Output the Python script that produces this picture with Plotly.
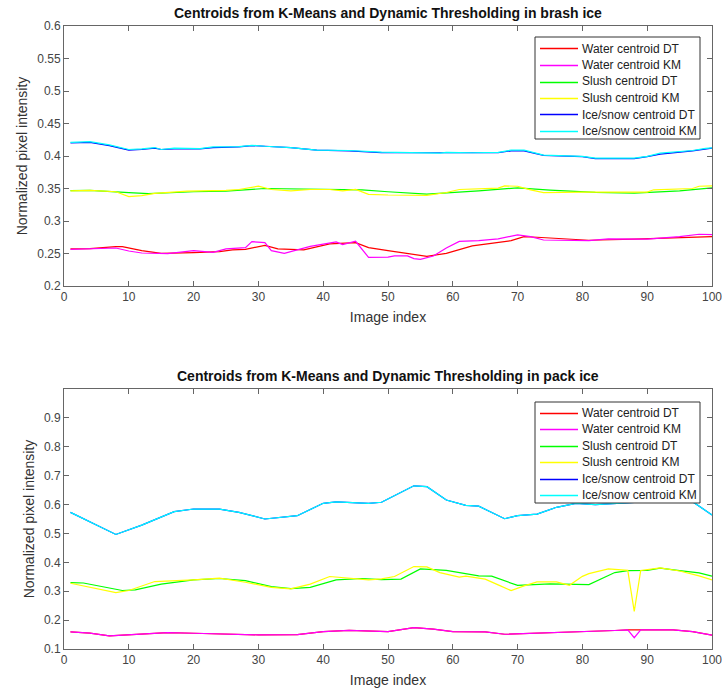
import plotly.graph_objects as go

# ---------------- Data: brash ice (top) ----------------
brash_water_dt_x = [1, 4, 8, 9, 12, 15, 20, 24, 26, 28, 31, 33, 37, 41, 45, 47, 50, 56, 59, 63, 69, 71, 73, 81, 88, 94, 100]
brash_water_dt_y = [0.257, 0.2575, 0.2605, 0.2605, 0.2544, 0.2503, 0.2513, 0.2529, 0.2555, 0.2565, 0.2626, 0.257,
                    0.2555, 0.2647, 0.2668, 0.259, 0.2544, 0.2456, 0.2503, 0.2616, 0.2698, 0.276, 0.275, 0.2704,
                    0.272, 0.274, 0.276]
brash_water_km_x = [1, 4, 8, 10, 12, 16, 20, 23, 25, 28, 29, 31, 32, 34, 38, 42, 43, 45, 47, 50, 51, 53, 54, 55, 57,
                    59, 61, 64, 67, 70, 72, 74, 81, 84, 90, 95, 98, 100]
brash_water_km_y = [0.2565, 0.2575, 0.2585, 0.2539, 0.2508, 0.2498, 0.2544, 0.2518, 0.257, 0.259, 0.2682, 0.2668,
                    0.2544, 0.2503, 0.261, 0.2678, 0.2637, 0.2688, 0.244, 0.2445, 0.2462, 0.2462, 0.2421, 0.241,
                    0.2462, 0.2585, 0.2687, 0.2698, 0.2725, 0.2786, 0.276, 0.2708, 0.2698, 0.2725, 0.272, 0.276,
                    0.2796, 0.279]
brash_slush_dt_x = [1, 4, 10, 13, 20, 25, 31, 36, 41, 46, 50, 56, 64, 70, 75, 82, 88, 95, 100]
brash_slush_dt_y = [0.3468, 0.347, 0.3438, 0.342, 0.345, 0.346, 0.350, 0.349, 0.3485, 0.348, 0.345, 0.3412, 0.3462,
                    0.351, 0.3475, 0.344, 0.343, 0.3462, 0.351]
brash_slush_km_x = [1, 4, 8, 10, 12, 14, 19, 25, 27, 30, 32, 35, 38, 41, 43, 45, 47, 50, 56, 59, 61, 67, 68, 70, 72,
                    74, 80, 85, 90, 91, 97, 98, 100]
brash_slush_km_y = [0.3465, 0.347, 0.345, 0.3375, 0.339, 0.3425, 0.346, 0.347, 0.3485, 0.3535, 0.3485, 0.3465,
                    0.3485, 0.3485, 0.3465, 0.3485, 0.341, 0.340, 0.3395, 0.3438, 0.3485, 0.3505, 0.354, 0.3535,
                    0.348, 0.3438, 0.3445, 0.344, 0.3445, 0.348, 0.350, 0.3535, 0.354]
brash_ice_dt_x = [1, 4, 7, 10, 12, 14, 15, 17, 21, 23, 27, 29, 31, 35, 39, 44, 49, 53, 58, 59, 63, 67, 69, 71, 74,
                  80, 82, 88, 90, 92, 97, 99, 100]
brash_ice_dt_y = [0.420, 0.421, 0.416, 0.409, 0.410, 0.412, 0.410, 0.411, 0.411, 0.413, 0.414, 0.416, 0.415, 0.413,
                  0.409, 0.408, 0.405, 0.405, 0.404, 0.405, 0.405, 0.405, 0.408, 0.408, 0.401, 0.399, 0.396, 0.396,
                  0.399, 0.403, 0.408, 0.411, 0.412]
brash_ice_km_x = [1, 4, 7, 10, 12, 14, 15, 17, 21, 23, 27, 29, 31, 35, 39, 44, 49, 53, 58, 59, 63, 67, 69, 71, 74,
                  80, 82, 88, 90, 92, 97, 99, 100]
brash_ice_km_y = [0.421, 0.422, 0.417, 0.410, 0.411, 0.413, 0.410, 0.412, 0.4115, 0.414, 0.4145, 0.4165, 0.415,
                  0.413, 0.409, 0.4085, 0.406, 0.4055, 0.4043, 0.4056, 0.405, 0.4056, 0.409, 0.409, 0.4013, 0.3995,
                  0.3966, 0.3966, 0.3995, 0.4043, 0.4085, 0.4116, 0.4126]

# ---------------- Data: pack ice (bottom) ----------------
pack_water_dt_x = [1, 4, 7, 10, 16, 20, 30, 36, 40, 44, 50, 54, 57, 60, 65, 68, 75, 80, 85, 87, 89, 94, 97, 100]
pack_water_dt_y = [0.159, 0.155, 0.1454, 0.1488, 0.1567, 0.1545, 0.149, 0.150, 0.160, 0.1646, 0.160, 0.1737, 0.169,
                   0.160, 0.159, 0.151, 0.156, 0.158, 0.164, 0.166, 0.166, 0.166, 0.160, 0.148]
pack_water_km_x = [1, 4, 7, 10, 16, 20, 30, 36, 40, 44, 50, 54, 57, 60, 65, 68, 75, 80, 85, 87, 88, 89, 94, 97, 100]
pack_water_km_y = [0.159, 0.155, 0.1454, 0.1488, 0.1567, 0.1545, 0.149, 0.150, 0.160, 0.1646, 0.160, 0.1737, 0.169,
                   0.160, 0.159, 0.151, 0.156, 0.158, 0.164, 0.166, 0.139, 0.166, 0.166, 0.160, 0.148]
pack_slush_dt_x = [1, 3, 9, 11, 15, 20, 24, 28, 32, 35, 38, 42, 46, 49, 52, 55, 59, 64, 66, 70, 75, 81, 85, 87, 90,
                   92, 95, 98, 100]
pack_slush_dt_y = [0.330, 0.3285, 0.3025, 0.3045, 0.3245, 0.3395, 0.344, 0.3365, 0.316, 0.309, 0.3135, 0.3395, 0.344,
                   0.340, 0.342, 0.3774, 0.372, 0.353, 0.352, 0.320, 0.3255, 0.323, 0.3646, 0.371, 0.372, 0.3797,
                   0.371, 0.3635, 0.352]
pack_slush_km_x = [1, 8, 10, 14, 20, 24, 28, 32, 35, 38, 41, 44, 47, 49, 51, 54, 56, 58, 61, 62, 65, 67, 69, 71, 73,
                   76, 78, 80, 81, 84, 87, 88, 89, 92, 95, 98, 100]
pack_slush_km_y = [0.3275, 0.2955, 0.3025, 0.3335, 0.3395, 0.345, 0.331, 0.3135, 0.308, 0.3245, 0.351, 0.345,
                   0.3395, 0.343, 0.351, 0.3853, 0.384, 0.3646, 0.349, 0.352, 0.342, 0.322, 0.302, 0.3185, 0.3325,
                   0.3325, 0.3205, 0.3515, 0.361, 0.3774, 0.372, 0.23, 0.372, 0.381, 0.370, 0.353, 0.3395]
pack_ice_dt_x = [1, 8, 12, 17, 20, 24, 27, 31, 36, 40, 42, 47, 49, 50, 54, 56, 59, 62, 64, 68, 70, 73, 76, 79, 82,
                 86, 90, 94, 97, 100]
pack_ice_dt_y = [0.573, 0.4965, 0.529, 0.5753, 0.5846, 0.584, 0.573, 0.550, 0.5615, 0.6043, 0.609, 0.6043, 0.608,
                 0.620, 0.665, 0.662, 0.6157, 0.597, 0.5943, 0.551, 0.5615, 0.567, 0.5905, 0.6043, 0.600, 0.605,
                 0.610, 0.615, 0.610, 0.564]
pack_ice_km_x = [1, 8, 12, 17, 20, 24, 27, 31, 36, 40, 42, 47, 49, 50, 54, 56, 59, 62, 64, 68, 70, 73, 76, 79, 82,
                 86, 90, 94, 97, 100]
pack_ice_km_y = [0.573, 0.4965, 0.529, 0.5753, 0.5846, 0.584, 0.573, 0.550, 0.5615, 0.6043, 0.609, 0.6043, 0.608,
                 0.620, 0.665, 0.662, 0.6157, 0.597, 0.5943, 0.551, 0.5615, 0.567, 0.5905, 0.6043, 0.600, 0.605,
                 0.610, 0.615, 0.610, 0.564]

names = ["Water centroid DT", "Water centroid KM", "Slush centroid DT",
         "Slush centroid KM", "Ice/snow centroid DT", "Ice/snow centroid KM"]
colors = ["#ff0000", "#ff00ff", "#00ff00", "#ffff00", "#0000ff", "#00ffff"]

top_title = "Centroids from K-Means and Dynamic Thresholding in brash ice"
bottom_title = "Centroids from K-Means and Dynamic Thresholding in pack ice"
x_label = "Image index"
y_label = "Normalized pixel intensity"
x_ticks = [0, 10, 20, 30, 40, 50, 60, 70, 80, 90, 100]
top_y_ticks = [0.2, 0.25, 0.3, 0.35, 0.4, 0.45, 0.5, 0.55, 0.6]
bottom_y_ticks = [0.1, 0.2, 0.3, 0.4, 0.5, 0.6, 0.7, 0.8, 0.9]

top_series = [(brash_water_dt_x, brash_water_dt_y), (brash_water_km_x, brash_water_km_y),
              (brash_slush_dt_x, brash_slush_dt_y), (brash_slush_km_x, brash_slush_km_y),
              (brash_ice_dt_x, brash_ice_dt_y), (brash_ice_km_x, brash_ice_km_y)]
bottom_series = [(pack_water_dt_x, pack_water_dt_y), (pack_water_km_x, pack_water_km_y),
                 (pack_slush_dt_x, pack_slush_dt_y), (pack_slush_km_x, pack_slush_km_y),
                 (pack_ice_dt_x, pack_ice_dt_y), (pack_ice_km_x, pack_ice_km_y)]

FONT = "Liberation Sans, Arial, sans-serif"
AX = "#666666"
LBL = "#444444"

# figure geometry (pixels)
W, H = 722, 696
ML, MR, MT, MB = 64, 10, 26, 47
PW, PH = W - ML - MR, H - MT - MB


def px_x(px):
    return (px - ML) / PW


def px_y(py):
    return (H - MB - py) / PH


fig = go.Figure()
for (xs, ys), n, c in zip(top_series, names, colors):
    fig.add_trace(go.Scatter(x=xs, y=ys, name=n, mode="lines", line=dict(color=c, width=1.2),
                             xaxis="x", yaxis="y", showlegend=False))
for (xs, ys), n, c in zip(bottom_series, names, colors):
    fig.add_trace(go.Scatter(x=xs, y=ys, name=n, mode="lines", line=dict(color=c, width=1.2),
                             xaxis="x2", yaxis="y2", showlegend=False))

TOP_DOM = [px_y(286), 1.0]
BOT_DOM = [0.0, px_y(389)]


def xaxis(anchor):
    return dict(range=[0, 100], tickvals=x_ticks, ticks="inside", ticklen=5, tickcolor=AX,
                showline=True, linecolor=AX, linewidth=1, mirror="allticks", showgrid=False,
                zeroline=False, automargin=False, ticklabeloverflow="allow",
                tickfont=dict(size=12, color=LBL, family=FONT),
                title=dict(text=x_label, font=dict(size=14, color="#333", family=FONT), standoff=8),
                anchor=anchor)


def yaxis(anchor, rng, ticks, dom):
    return dict(range=rng, tickvals=ticks, ticks="inside", ticklen=5, tickcolor=AX,
                showline=True, linecolor=AX, linewidth=1, mirror="allticks", showgrid=False,
                zeroline=False, automargin=False, ticklabeloverflow="allow",
                tickfont=dict(size=12, color=LBL, family=FONT), domain=dom,
                title=dict(text=y_label, font=dict(size=14, color="#333", family=FONT), standoff=6),
                anchor=anchor)


# hand-built legends (compact, like the original)
shapes = []
annotations = []
legend_boxes = [  # (box left, box top, box right, box bottom, first row centre, row step)
    (535, 37, 700, 139, 48.5, 16.5),
    (535, 402, 700, 503, 412.8, 16.5),
]
for (bl, bt, br, bb, r0, step) in legend_boxes:
    shapes.append(dict(type="rect", xref="paper", yref="paper", x0=px_x(bl), x1=px_x(br),
                       y0=px_y(bb), y1=px_y(bt), line=dict(color="#333333", width=1),
                       fillcolor="white", layer="above"))
    for i, (n, c) in enumerate(zip(names, colors)):
        yc = round(r0 + i * step) + 0.5
        shapes.append(dict(type="line", xref="paper", yref="paper", x0=px_x(540), x1=px_x(578),
                           y0=px_y(yc), y1=px_y(yc), line=dict(color=c, width=1.5), layer="above"))
        annotations.append(dict(text=n, xref="paper", yref="paper", x=px_x(580), y=px_y(r0 + i * step),
                                xanchor="left", yanchor="middle", showarrow=False,
                                font=dict(size=12, color="#222", family=FONT)))

annotations += [
    dict(text="<b>" + top_title + "</b>", x=0.5, xref="paper", y=TOP_DOM[1], yref="paper",
         yanchor="bottom", yshift=3, showarrow=False, font=dict(size=14, color="#111", family=FONT)),
    dict(text="<b>" + bottom_title + "</b>", x=0.5, xref="paper", y=BOT_DOM[1], yref="paper",
         yanchor="bottom", yshift=3, showarrow=False, font=dict(size=14, color="#111", family=FONT)),
]

fig.update_layout(
    width=W, height=H, autosize=False,
    margin=dict(l=ML, r=MR, t=MT, b=MB),
    paper_bgcolor="white", plot_bgcolor="white",
    xaxis=xaxis("y"), yaxis=yaxis("x", [0.2, 0.6], top_y_ticks, TOP_DOM),
    xaxis2=xaxis("y2"), yaxis2=yaxis("x2", [0.1, 1.0], bottom_y_ticks, BOT_DOM),
    shapes=shapes,
    annotations=annotations,
    showlegend=False,
)

fig.write_html("out.html")
